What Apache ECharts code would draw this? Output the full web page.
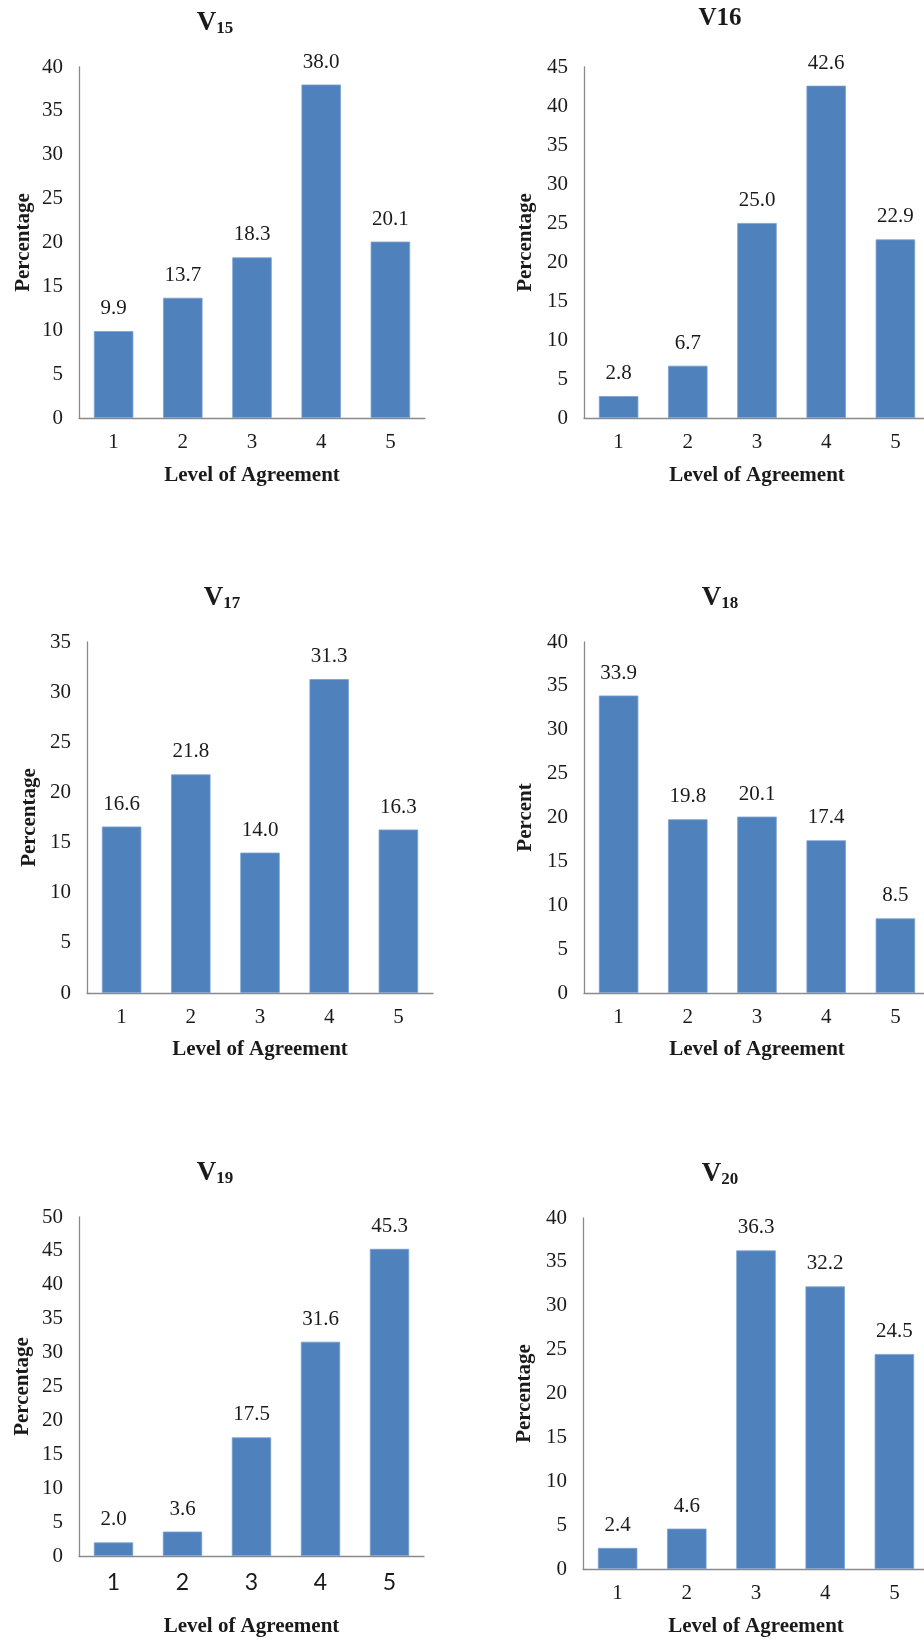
<!DOCTYPE html>
<html>
<head>
<meta charset="utf-8">
<script src="https://cdn.jsdelivr.net/npm/echarts@6/dist/echarts.min.js"></script>
<style>
  html, body { margin: 0; padding: 0; background: #ffffff; }
  #chart { width: 924px; height: 1640px; }
</style>
</head>
<body>
<div id="chart"></div>
<script>
// Response distributions (percent) per item, by level of agreement
const levels = ['1', '2', '3', '4', '5'];
const v15 = [9.9, 13.7, 18.3, 38.0, 20.1];
const v16 = [2.8, 6.7, 25.0, 42.6, 22.9];
const v17 = [16.6, 21.8, 14.0, 31.3, 16.3];
const v18 = [33.9, 19.8, 20.1, 17.4, 8.5];
const v19 = [2.0, 3.6, 17.5, 31.6, 45.3];
const v20 = [2.4, 4.6, 36.3, 32.2, 24.5];

// Axis text
const yMaxes = [40, 45, 35, 40, 50, 40];
const yNames = ['Percentage', 'Percentage', 'Percentage', 'Percent', 'Percentage', 'Percentage'];
const xName = 'Level of Agreement';
const titleMain = ['V', 'V16', 'V', 'V', 'V', 'V'];
const titleSub = ['15', '', '17', '18', '19', '20'];

const seriesData = [v15, v16, v17, v18, v19, v20];

// Panel geometry: plot box, gaps for axis names, title centre
const panels = [
  { left: 79,  top: 67,   width: 346, height: 351, yGap: 45, xGap: 47, tx: 215, ty: 22 },
  { left: 584, top: 67,   width: 346, height: 351, yGap: 48, xGap: 47, tx: 720, ty: 19 },
  { left: 87,  top: 642,  width: 346, height: 351, yGap: 47, xGap: 46, tx: 222, ty: 597 },
  { left: 584, top: 642,  width: 346, height: 351, yGap: 48, xGap: 46, tx: 720, ty: 597 },
  { left: 79,  top: 1217, width: 345, height: 339, yGap: 46, xGap: 60, tx: 215, ty: 1172 },
  { left: 583, top: 1218, width: 346, height: 351, yGap: 48, xGap: 47, tx: 720, ty: 1173 }
];

const serif = 'Liberation Serif';
const textColor = '#1a1a1a';
const axisColor = '#8a8a8a';
const barColor = '#4f81bd';

const grids = [], xAxes = [], yAxes = [], series = [], graphics = [];

panels.forEach((p, i) => {
  grids.push({
    left: p.left, top: p.top, width: p.width, height: p.height,
    containLabel: false, outerBoundsMode: 'none'
  });
  xAxes.push({
    type: 'category', gridIndex: i, data: levels,
    axisLine: { show: true, lineStyle: { color: axisColor, width: 1.3 } },
    axisTick: { show: false },
    axisLabel: {
      margin: i === 4 ? 15 : 14,
      color: textColor,
      fontFamily: i === 4 ? 'Lato' : serif,
      fontSize: i === 4 ? 23 : 21
    },
    name: xName, nameLocation: 'middle', nameGap: p.xGap,
    nameTextStyle: { fontFamily: serif, fontWeight: 'bold', fontSize: 21, color: textColor }
  });
  yAxes.push({
    type: 'value', gridIndex: i, min: 0, max: yMaxes[i], interval: 5,
    axisLine: { show: true, lineStyle: { color: axisColor, width: 1.3 } },
    axisTick: { show: false },
    splitLine: { show: false },
    axisLabel: { margin: 16, color: textColor, fontFamily: serif, fontSize: 21 },
    name: yNames[i], nameLocation: 'middle', nameGap: p.yGap, nameRotate: 90,
    nameTextStyle: { fontFamily: serif, fontWeight: 'bold', fontSize: 21, color: textColor }
  });
  series.push({
    type: 'bar', xAxisIndex: i, yAxisIndex: i, data: seriesData[i],
    barCategoryGap: '43%',
    itemStyle: { color: barColor, borderColor: '#7aa0cf', borderWidth: 0.8 },
    label: {
      show: true, position: 'top', distance: 12,
      formatter: (d) => d.value.toFixed(1),
      fontFamily: serif, fontSize: 21, color: textColor
    },
    animation: false
  });
  graphics.push({
    type: 'text', x: p.tx, y: p.ty,
    style: {
      text: titleSub[i] ? '{v|' + titleMain[i] + '}{s|' + titleSub[i] + '}' : '{w|' + titleMain[i] + '}',
      align: 'center', verticalAlign: 'middle',
      fill: textColor,
      rich: {
        v: { fontFamily: serif, fontWeight: 'bold', fontSize: 27, lineHeight: 30, verticalAlign: 'bottom', fill: textColor },
        s: { fontFamily: serif, fontWeight: 'bold', fontSize: 17, lineHeight: 16, verticalAlign: 'bottom', fill: textColor },
        w: { fontFamily: serif, fontWeight: 'bold', fontSize: 25, lineHeight: 30, fill: textColor }
      }
    }
  });
});

const chart = echarts.init(document.getElementById('chart'), null, { renderer: 'canvas' });
chart.setOption({
  backgroundColor: '#ffffff',
  animation: false,
  textStyle: { fontFamily: serif },
  grid: grids,
  xAxis: xAxes,
  yAxis: yAxes,
  series: series,
  graphic: graphics
});
</script>
</body>
</html>
